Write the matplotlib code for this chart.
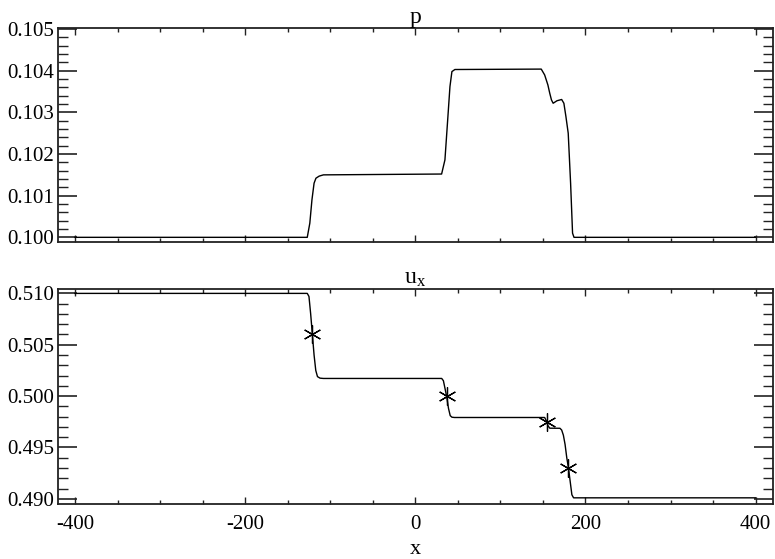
import matplotlib
matplotlib.use('Agg')
import matplotlib.pyplot as plt
import matplotlib.ticker as mticker

# pressure profile
p_x = [-400, -127, -124, -121.5, -119, -116.8, -113, -108,
       30.9, 34.8, 38.3, 40.7, 43, 46.5,
       148, 152, 155.8, 158, 160, 162, 166.5, 172, 174.6, 177,
       179.7, 182.5, 184.8, 186.5, 400]
p_v = [0.1000, 0.1000, 0.10034, 0.1009, 0.1013, 0.10142, 0.10147, 0.1015,
       0.10152, 0.10186, 0.1029, 0.10362, 0.10398, 0.10403,
       0.10404, 0.10390, 0.10366, 0.10346, 0.10330, 0.10322, 0.10328, 0.10331, 0.10322, 0.10290,
       0.10250, 0.10130, 0.10010, 0.10000, 0.10000]

# velocity profile
u_x = [-400, -127, -125, -123, -121, -119, -117, -115, -112, -108,
       31, 33, 35, 37, 39, 41, 43, 46,
       152, 154, 156, 158, 170, 172, 174, 176, 178, 180, 182, 184, 186, 400]
u_v = [0.5100, 0.5100, 0.5097, 0.5080, 0.5060, 0.5040, 0.5025, 0.5019, 0.50175, 0.50172,
       0.50172, 0.5015, 0.5007, 0.4999, 0.4988, 0.4981, 0.49795, 0.49792,
       0.49792, 0.4976, 0.4971, 0.49688, 0.49687, 0.4967, 0.4962, 0.4953, 0.4940, 0.4930, 0.4917, 0.4904, 0.4901, 0.4901]

# asterisk markers
star_x = [-121, 37, 154.5, 180]
star_y = [0.5060, 0.5000, 0.4975, 0.4930]

plt.rcParams.update({
    'font.family': ['Liberation Serif', 'DejaVu Serif'],
    'font.size': 15,
    'axes.unicode_minus': False,
    'mathtext.fontset': 'custom',
    'mathtext.rm': 'Liberation Serif',
    'mathtext.it': 'Liberation Serif',
})

fig = plt.figure(figsize=(7.75, 5.59), dpi=100)
ax1 = fig.add_axes([0.0748, 0.5665, 0.9222, 0.3829])
ax2 = fig.add_axes([0.0748, 0.0984, 0.9222, 0.3841])

ax1.plot(p_x, p_v, color='black', linewidth=1.0)
ax1.set_ylim(0.09988, 0.10502)
ax1.yaxis.set_major_locator(mticker.MultipleLocator(0.001))
ax1.yaxis.set_minor_locator(mticker.MultipleLocator(0.0002))
ax1.yaxis.set_major_formatter(mticker.FormatStrFormatter('%.3f'))
ax1.set_title('p', fontsize=17, pad=3)
ax1.tick_params(labelbottom=False)

ax2.plot(u_x, u_v, color='black', linewidth=1.0)
ax2.plot(star_x, star_y, linestyle='none', marker=(6, 2, 0),
         markersize=13, markeredgewidth=0.9, color='black')
ax2.set_ylim(0.4895, 0.5104)
ax2.yaxis.set_major_locator(mticker.MultipleLocator(0.005))
ax2.yaxis.set_minor_locator(mticker.MultipleLocator(0.001))
ax2.yaxis.set_major_formatter(mticker.FormatStrFormatter('%.3f'))
ax2.set_title('u$_\\mathrm{x}$', fontsize=17, pad=3)
ax2.set_xlabel('x', fontsize=16, labelpad=4)

for ax in (ax1, ax2):
    ax.set_xlim(-420, 420)
    ax.xaxis.set_major_locator(mticker.MultipleLocator(200))
    ax.xaxis.set_minor_locator(mticker.MultipleLocator(50))
    for s in ax.spines.values():
        s.set_linewidth(1.3)
        s.set_color('#222222')
    ax.tick_params(which='both', direction='in', top=True, right=True, color='#222222')
    ax.tick_params(axis='y', which='major', length=14, width=1.2, pad=3)
    ax.tick_params(axis='y', which='minor', length=7, width=1.0)
    ax.tick_params(axis='x', which='major', length=5, width=1.0, pad=8)
    ax.tick_params(axis='x', which='minor', length=3, width=1.0)

fig.savefig('out.png', dpi=100)
